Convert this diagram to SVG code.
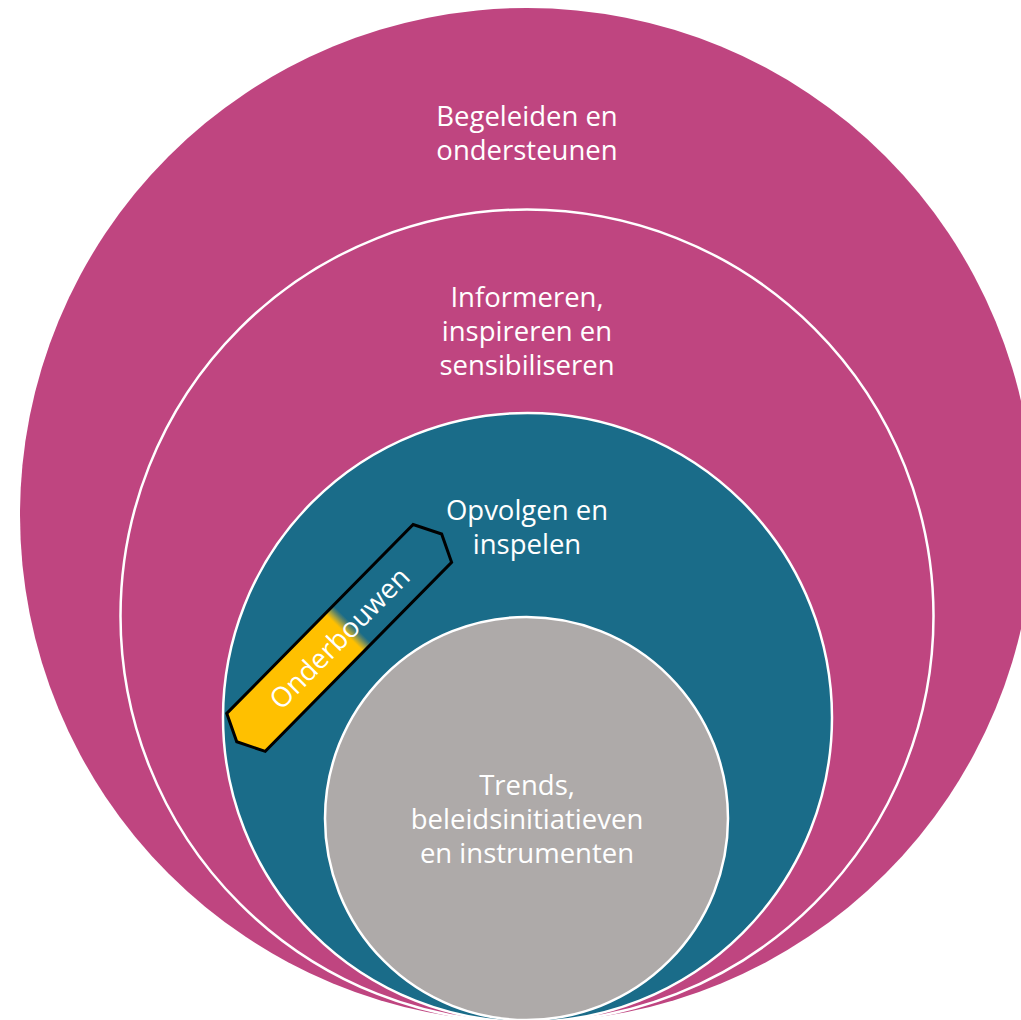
<svg xmlns="http://www.w3.org/2000/svg" width="1021" height="1020" viewBox="0 0 1021 1020">
<style>
.lbl{font-family:"Open Sans","Noto Sans",sans-serif;font-size:27.5px;fill:#ffffff;text-anchor:middle}
.ring{stroke:#ffffff;stroke-width:2.5}
</style>
<defs>
<linearGradient id="gOnd" x1="0" y1="0" x2="1" y2="0">
<stop offset="0" stop-color="#FFC000"/>
<stop offset="0.525" stop-color="#FFC000"/>
<stop offset="0.54" stop-color="#A9A33F"/>
<stop offset="0.555" stop-color="#4F7E6E"/>
<stop offset="0.565" stop-color="#1A6C89"/>
<stop offset="1" stop-color="#1A6C89"/>
</linearGradient>
</defs>
<rect width="1021" height="1020" fill="#ffffff"/>
<g id="begeleiden">
<circle cx="527" cy="515" r="507" fill="#BF4580"/>
<text class="lbl" x="527" y="126">Begeleiden en</text>
<text class="lbl" x="527" y="160">ondersteunen</text>
</g>
<g id="informeren">
<circle class="ring" cx="527" cy="616" r="406.5" fill="#BF4580"/>
<text class="lbl" x="527" y="307">Informeren,</text>
<text class="lbl" x="527" y="341">inspireren en</text>
<text class="lbl" x="527" y="375">sensibiliseren</text>
</g>
<g id="opvolgen">
<circle class="ring" cx="527.5" cy="717.5" r="304.5" fill="#1A6C89"/>
<text class="lbl" x="527" y="520">Opvolgen en</text>
<text class="lbl" x="527" y="554">inspelen</text>
</g>
<g id="trends">
<circle class="ring" cx="526.5" cy="818.5" r="201.5" fill="#AEAAA9"/>
<text class="lbl" x="527" y="795">Trends,</text>
<text class="lbl" x="527" y="829">beleidsinitiatieven</text>
<text class="lbl" x="527" y="863">en instrumenten</text>
</g>
<g id="onderbouwen" transform="translate(339.2,637.9) rotate(-45.4)">
<polygon points="-132.7,-27 132.7,-27 145.9,0 132.7,27 -132.7,27 -145.9,0" fill="url(#gOnd)" stroke="#000000" stroke-width="3" stroke-linejoin="miter"/>
<text class="lbl" x="0" y="10">Onderbouwen</text>
</g>
<g id="connectors"/>
</svg>
